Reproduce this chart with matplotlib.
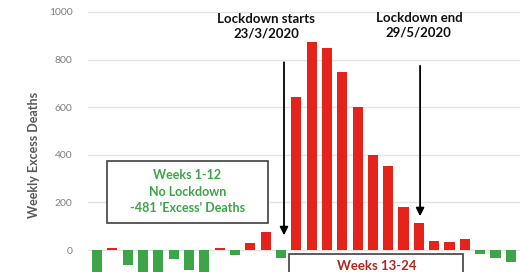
import matplotlib
matplotlib.use("Agg")
import matplotlib.pyplot as plt
from matplotlib.patches import Rectangle

weeks = list(range(1, 29))
excess = [-95, 7, -63, -105, -100, -38, -85, -93, 7, -21, 28, 77,
          -35, 644, 875, 847, 749, 600, 400, 354, 179, 112, 36, 34,
          45, -18, -35, -49]
yticks = [0, 200, 400, 600, 800, 1000]

RED = "#E5231B"
GREEN = "#3DA547"
plt.rcParams['font.family'] = ['Lato', 'DejaVu Sans']

fig = plt.figure(figsize=(5.2, 2.72), dpi=100)
ax = fig.add_axes([88/520, 0, 1 - 88/520, 1])
colors = [RED if v > 0 else GREEN for v in excess]
ax.bar(weeks, excess, width=0.66, color=colors, zorder=2)
ax.set_xlim(0.41, 28.6)
ax.set_ylim(-92.4, 1050)
ax.set_yticks(yticks)
ax.set_yticklabels([str(t) for t in yticks], color="#7f7f7f", fontsize=7.5)
ax.tick_params(axis='y', length=0, pad=11)
ax.set_xticks([])
for s in ax.spines.values():
    s.set_visible(False)
ax.grid(axis='y', color="#e3e3e3", linewidth=1, zorder=0)
ax.set_ylabel("Weekly Excess Deaths", color="#595959", fontsize=9,
              fontweight='bold')
ax.yaxis.set_label_coords(-0.111, 0.43)

# annotations
ax.text(12.03, 940, "Lockdown starts\n23/3/2020", ha='center', va='center',
        fontsize=9.5, fontweight='bold', color="#111111", linespacing=1.25)
ax.annotate("", xy=(13.2, 50), xytext=(13.2, 800),
            arrowprops=dict(arrowstyle="-|>", color="black", lw=1.3,
                            mutation_scale=12))
ax.text(22.0, 945, "Lockdown end\n29/5/2020", ha='center', va='center',
        fontsize=9.5, fontweight='bold', color="#111111", linespacing=1.25)
ax.annotate("", xy=(22.08, 130), xytext=(22.08, 785),
            arrowprops=dict(arrowstyle="-|>", color="black", lw=1.3,
                            mutation_scale=12))

# boxes
ax.add_patch(Rectangle((1.65, 115), 10.51, 260, facecolor="white",
                       edgecolor="#404040", linewidth=1.2, zorder=3))
ax.text(6.9, 245, "Weeks 1-12\nNo Lockdown\n-481 'Excess' Deaths",
        ha='center', va='center', color=GREEN, fontsize=9,
        fontweight='bold', linespacing=1.45, zorder=4)
ax.add_patch(Rectangle((13.53, -150), 11.36, 135, facecolor="white",
                       edgecolor="#404040", linewidth=1.2, zorder=3,
                       clip_on=True))
ax.text(19.27, -67, "Weeks 13-24", ha='center', va='center',
        color="#B3261E", fontsize=9.5, fontweight='bold', zorder=4)

fig.savefig("out.png", dpi=100)
